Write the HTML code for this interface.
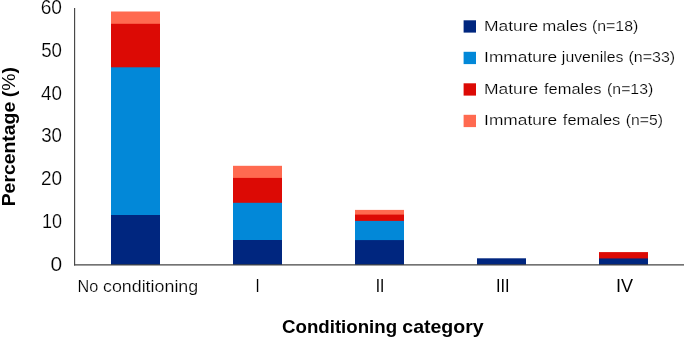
<!DOCTYPE html>
<html lang="en"><head><meta charset="utf-8"><title>Conditioning category chart</title>
<style>
html,body{margin:0;padding:0;background:#fff;}
body{width:685px;height:339px;overflow:hidden;}
svg{display:block;will-change:transform;}
text{font-family:"Liberation Sans",sans-serif;fill:#000;stroke:#fff;stroke-width:0.2px;}
.b{font-weight:bold;fill:#000;stroke:none;}
.r{stroke:none;}
</style></head><body>
<svg width="685" height="339" viewBox="0 0 685 339">
<rect width="685" height="339" fill="#fff"/>
<rect x="111.00" y="11.50" width="49" height="253.40" fill="#ff6a50"/>
<rect x="111.00" y="23.80" width="49" height="241.10" fill="#dc0a05"/>
<rect x="111.00" y="67.30" width="49" height="197.60" fill="#0288d8"/>
<rect x="111.00" y="215.00" width="49" height="49.90" fill="#00267f"/>
<rect x="233.00" y="165.80" width="49" height="99.10" fill="#ff6a50"/>
<rect x="233.00" y="177.90" width="49" height="87.00" fill="#dc0a05"/>
<rect x="233.00" y="202.80" width="49" height="62.10" fill="#0288d8"/>
<rect x="233.00" y="240.00" width="49" height="24.90" fill="#00267f"/>
<rect x="355.00" y="209.90" width="49" height="55.00" fill="#ff6a50"/>
<rect x="355.00" y="214.60" width="49" height="50.30" fill="#dc0a05"/>
<rect x="355.00" y="220.90" width="49" height="44.00" fill="#0288d8"/>
<rect x="355.00" y="240.10" width="49" height="24.80" fill="#00267f"/>
<rect x="477.00" y="258.30" width="49" height="6.60" fill="#00267f"/>
<rect x="599.00" y="252.10" width="49" height="12.80" fill="#dc0a05"/>
<rect x="599.00" y="258.45" width="49" height="6.45" fill="#00267f"/>
<line x1="74.6" y1="7.9" x2="74.6" y2="265.5" stroke="#454545" stroke-width="1.15"/>
<line x1="74" y1="264.9" x2="684" y2="264.9" stroke="#454545" stroke-width="1.2"/>
<text x="40.71" y="14.30" font-size="19.4" textLength="21.3" lengthAdjust="spacingAndGlyphs">60</text>
<text x="41.18" y="56.95" font-size="19.4" textLength="20.82" lengthAdjust="spacingAndGlyphs">50</text>
<text x="41.01" y="99.65" font-size="19.4" textLength="20.99" lengthAdjust="spacingAndGlyphs">40</text>
<text x="41.18" y="142.45" font-size="19.4" textLength="20.82" lengthAdjust="spacingAndGlyphs">30</text>
<text x="40.92" y="185.25" font-size="19.4" textLength="21.09" lengthAdjust="spacingAndGlyphs">20</text>
<text x="42.01" y="228.05" font-size="19.4" textLength="20.06" lengthAdjust="spacingAndGlyphs">10</text>
<text x="50.49" y="271.15" font-size="19.4" textLength="11.67" lengthAdjust="spacingAndGlyphs">0</text>
<g transform="translate(15,205) rotate(-90)">
<text class="b" x="-1.33" y="0.00" font-size="18.2" textLength="104.57" lengthAdjust="spacingAndGlyphs">Percentage</text>
<text class="b" x="107.77" y="0" font-size="18.2" textLength="30.22" lengthAdjust="spacingAndGlyphs">(<tspan font-weight="normal">%</tspan>)</text>
</g>
<text x="77.49" y="291.80" font-size="15.6" textLength="20.82" lengthAdjust="spacingAndGlyphs">No</text>
<text x="102.98" y="291.80" font-size="15.6" textLength="95.24" lengthAdjust="spacingAndGlyphs">conditioning</text>
<text class="r" x="255.58" y="291.90" font-size="18.3" textLength="4.11" lengthAdjust="spacingAndGlyphs">I</text>
<text class="r" x="375.81" y="291.90" font-size="18.3" textLength="8.6" lengthAdjust="spacingAndGlyphs">II</text>
<text class="r" x="495.92" y="291.90" font-size="18.3" textLength="13.65" lengthAdjust="spacingAndGlyphs">III</text>
<text class="r" x="616.06" y="291.90" font-size="18.3" textLength="17.06" lengthAdjust="spacingAndGlyphs">IV</text>
<text class="b" x="282.03" y="333.35" font-size="18.2" textLength="115.05" lengthAdjust="spacingAndGlyphs">Conditioning</text>
<text class="b" x="402.29" y="333.35" font-size="18.2" textLength="81.42" lengthAdjust="spacingAndGlyphs">category</text>
<rect x="463.6" y="20.30" width="12.4" height="12.3" fill="#00267f"/>
<text x="483.90" y="30.85" font-size="15.4" textLength="54.35" lengthAdjust="spacingAndGlyphs">Mature</text>
<text x="542.32" y="30.85" font-size="15.4" textLength="44.83" lengthAdjust="spacingAndGlyphs">males</text>
<text x="591.98" y="30.85" font-size="15.4" textLength="46.35" lengthAdjust="spacingAndGlyphs">(n=18)</text>
<rect x="463.6" y="51.80" width="12.4" height="12.3" fill="#0288d8"/>
<text x="484.14" y="62.25" font-size="15.4" textLength="73.08" lengthAdjust="spacingAndGlyphs">Immature</text>
<text x="561.88" y="62.25" font-size="15.4" textLength="61.49" lengthAdjust="spacingAndGlyphs">juveniles</text>
<text x="628.47" y="62.25" font-size="15.4" textLength="46.67" lengthAdjust="spacingAndGlyphs">(n=33)</text>
<rect x="463.6" y="83.30" width="12.4" height="12.3" fill="#dc0a05"/>
<text x="483.90" y="93.65" font-size="15.4" textLength="54.35" lengthAdjust="spacingAndGlyphs">Mature</text>
<text x="544.04" y="93.65" font-size="15.4" textLength="57.5" lengthAdjust="spacingAndGlyphs">females</text>
<text x="607.09" y="93.65" font-size="15.4" textLength="46.14" lengthAdjust="spacingAndGlyphs">(n=13)</text>
<rect x="463.6" y="114.80" width="12.4" height="12.3" fill="#ff6a50"/>
<text x="484.14" y="125.05" font-size="15.4" textLength="73.08" lengthAdjust="spacingAndGlyphs">Immature</text>
<text x="562.84" y="125.05" font-size="15.4" textLength="57.5" lengthAdjust="spacingAndGlyphs">females</text>
<text x="625.89" y="125.05" font-size="15.4" textLength="37.08" lengthAdjust="spacingAndGlyphs">(n=5)</text>
</svg>
</body></html>
